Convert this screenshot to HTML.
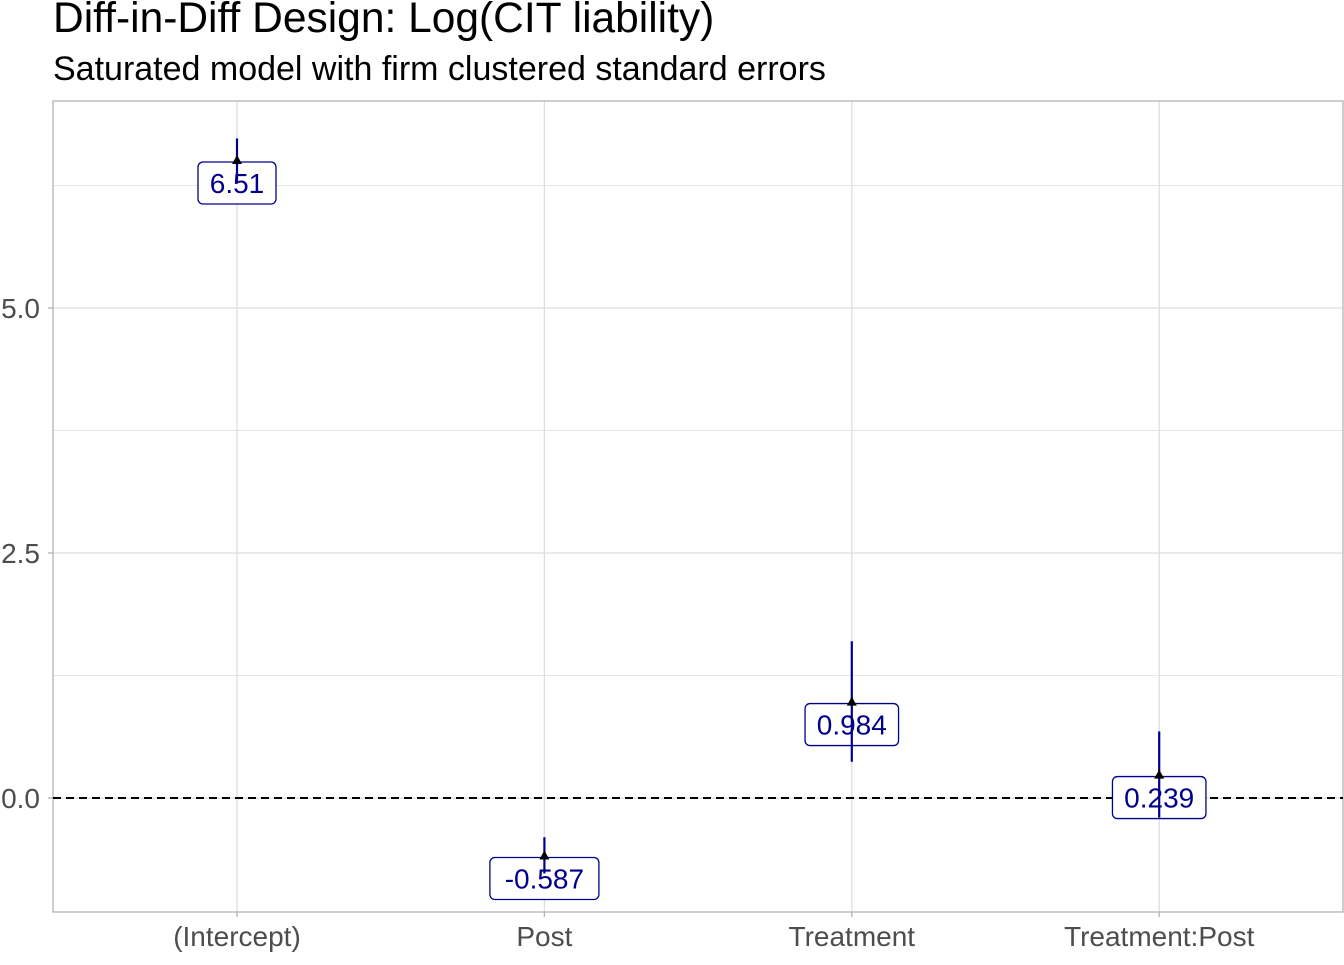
<!DOCTYPE html>
<html><head><meta charset="utf-8"><style>
body{margin:0;background:#fff;}
svg text{font-family:"Liberation Sans",Arial,sans-serif;}
</style></head><body>
<svg width="1344" height="960" xmlns="http://www.w3.org/2000/svg">
<text x="53" y="32" font-size="42.5" fill="#000">Diff-in-Diff Design: Log(CIT liability)</text>
<text x="53" y="80" font-size="34" fill="#000">Saturated model with firm clustered standard errors</text>
<g id="grid"></g>
<rect x="53" y="101" width="1290" height="811" fill="none" stroke="#b3b3b3" stroke-width="1.3"/>
<g id="marks"></g>
<g id="axes"></g>
</svg>
<script>
const categories=["(Intercept)","Post","Treatment","Treatment:Post"];
const estimates=[6.51,-0.587,0.984,0.239];
const lower=[6.29,-0.77,0.37,-0.20];
const upper=[6.73,-0.40,1.60,0.68];
const labels=["6.51","-0.587","0.984","0.239"];
const yTicks=[0,2.5,5.0];
const yTickLabels=["0.0","2.5","5.0"];
const NS="http://www.w3.org/2000/svg";
const x0=237,dx=307.4;
function X(i){return x0+i*dx;}
function Y(v){return 798-v*98;}
function mk(t,a,p){const e=document.createElementNS(NS,t);for(const k in a)e.setAttribute(k,a[k]);p.appendChild(e);return e;}
const grid=document.getElementById('grid'),marks=document.getElementById('marks'),axes=document.getElementById('axes');
for(let v=-1.25;v<=7;v+=1.25){const y=Y(v);if(y<101||y>912)continue;
const major=Math.abs(v/2.5-Math.round(v/2.5))<1e-6;
const l=mk('line',{x1:53,x2:1343,y1:y,y2:y,stroke:major?'#dedede':'#e6e6e6','stroke-width':major?1.3:1},grid);

}
categories.forEach((c,i)=>{
const l=mk('line',{x1:X(i),x2:X(i),y1:101,y2:912,stroke:'#dedede','stroke-width':1.3},grid);


const t=mk('text',{x:X(i),y:946,'font-size':28,fill:'#4d4d4d','text-anchor':'middle'},axes);t.textContent=c;


const tk=mk('line',{x1:X(i),x2:X(i),y1:912,y2:917,stroke:'#b3b3b3','stroke-width':1.3},axes);


});
yTicks.forEach((v,i)=>{
const t=mk('text',{x:40,y:Y(v)+10,'font-size':28,fill:'#4d4d4d','text-anchor':'end'},axes);t.textContent=yTickLabels[i];


const tk=mk('line',{x1:48,x2:53,y1:Y(v),y2:Y(v),stroke:'#b3b3b3','stroke-width':1.3},axes);


});
const zl=mk('line',{x1:53,x2:1343,y1:Y(0),y2:Y(0),stroke:'#000','stroke-width':2,'stroke-dasharray':'8,5'},marks);


categories.forEach((c,i)=>{
const cx=X(i),cy=Y(estimates[i]);
const w=labels[i].length*15.5+16;
const ly=cy+23;
const g=mk('g',{},marks);


mk('rect',{x:cx-w/2,y:ly-21,width:w,height:42,rx:5,fill:'#fff',stroke:'#00008b','stroke-width':1.3},g);
const t=mk('text',{x:cx,y:ly+10,'font-size':28,fill:'#00008b','text-anchor':'middle'},g);t.textContent=labels[i];
const b=mk('line',{x1:cx,x2:cx,y1:Y(upper[i]),y2:Y(lower[i]),stroke:'#00008b','stroke-width':2.2},marks);


const p=mk('path',{d:`M${cx-5},${cy+4} L${cx},${cy-5} L${cx+5},${cy+4} Z`,fill:'#000'},marks);


});
</script>
</body></html>
